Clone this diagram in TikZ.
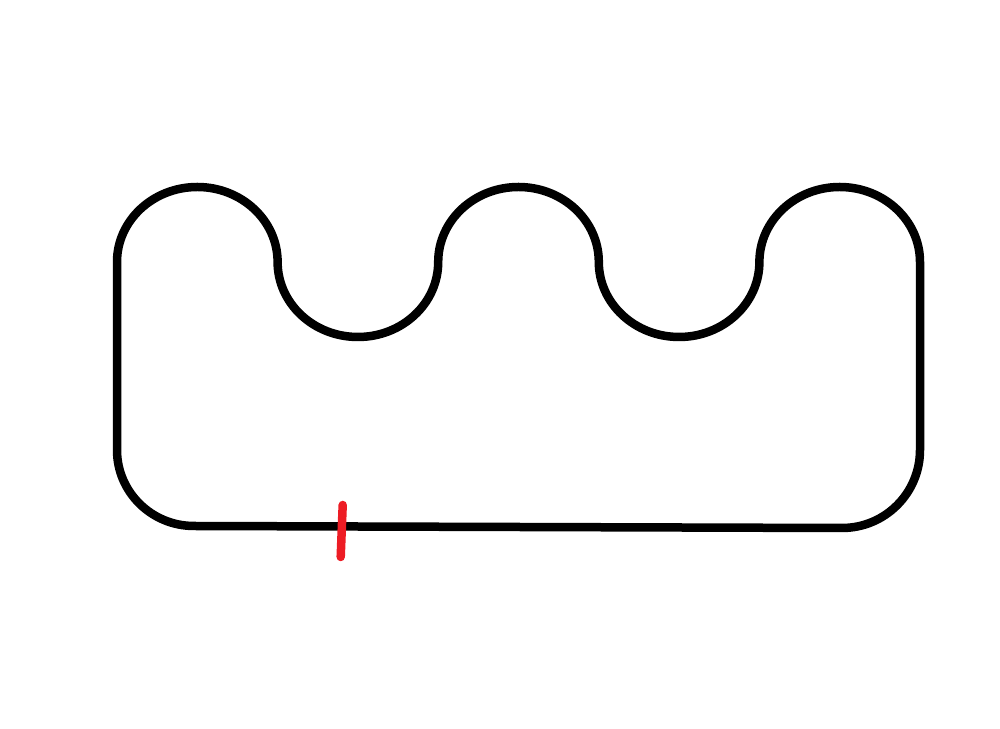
\documentclass[tikz,border=0pt]{standalone}
\usepackage{xcolor}
\usepackage{tikz}
\usetikzlibrary{positioning,calc}

\definecolor{markred}{RGB}{237,28,36}

\begin{document}
\begin{tikzpicture}[
    track/.style={draw=black, line width=0.17cm, line join=round},
    tickmark/.style={draw=markred, line width=0.17cm, line cap=round},
    bump/.style={start angle=180, end angle=0, x radius=1.606, y radius=1.5},
    dip/.style={start angle=180, end angle=360, x radius=1.606, y radius=1.5}
]
    \useasboundingbox (0,0) rectangle (20,14.58);

    % Corners of the track
    \coordinate (topleft) at (2.34,9.34);
    \coordinate (botleft) at (2.34,5.58);
    \coordinate (topright) at (18.4,9.34);
    \coordinate (botright) at (18.4,5.58);
    \coordinate (baseleft) at (3.88,4.06);

    % Track outline
    \draw[track] (botleft) -- (topleft)
        arc[bump] arc[dip] arc[bump] arc[dip] arc[bump]
        -- (botright)
        arc[start angle=0, end angle=-90, radius=1.56]
        -- (baseleft)
        arc[start angle=270, end angle=180, x radius=1.54, y radius=1.52]
        -- cycle;

    % Start line
    \coordinate (tickA) at (6.854,4.48);
    \coordinate (tickB) at (6.814,3.44);
    \draw[tickmark] (tickA) -- (tickB);
\end{tikzpicture}
\end{document}
